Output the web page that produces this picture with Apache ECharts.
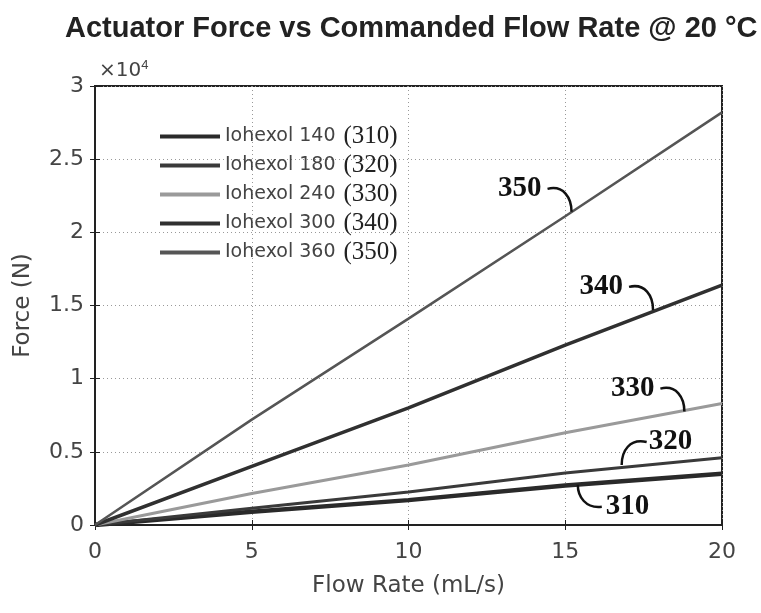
<!DOCTYPE html>
<html>
<head>
<meta charset="utf-8">
<script src="https://cdn.jsdelivr.net/npm/echarts@6/dist/echarts.min.js"></script>
<style>
  html, body { margin: 0; padding: 0; background: #fff; }
  #chart { width: 761px; height: 613px; }
</style>
</head>
<body>
<div id="chart"></div>
<script>
// flow rate (mL/s) and force (N) per contrast concentration
const flowRate = [0, 5, 10, 15, 20];
const force310 = [0, 900, 1700, 2700, 3500];
const force320 = [0, 1150, 2250, 3550, 4600];
const force330 = [0, 2150, 4100, 6300, 8300];
const force340 = [0, 4000, 8000, 12300, 16400];
const force350 = [0, 7200, 14100, 21100, 28200];

const seriesNames = ['Iohexol 140', 'Iohexol 180', 'Iohexol 240', 'Iohexol 300', 'Iohexol 360'];
const refCodes = ['310', '320', '330', '340', '350'];
const forces = [force310, force320, force330, force340, force350];

// look of each line (grayscale patent figure)
const lineLook = [
  { color: '#2a2a2a', width: 4.5 },
  { color: '#3a3a3a', width: 3 },
  { color: '#9a9a9a', width: 3 },
  { color: '#303030', width: 3.5 },
  { color: '#555555', width: 2.5 }
];

// callout anchors on the curves [flow, force] and which side the label sits
const callouts = [
  { code: '310', at: [15.4, 2750], side: 'rightDown' },
  { code: '320', at: [16.8, 4100], side: 'rightUp' },
  { code: '330', at: [18.8, 7750], side: 'leftUp' },
  { code: '340', at: [17.8, 14700], side: 'leftUp' },
  { code: '350', at: [15.2, 21400], side: 'leftUp' }
];

const chart = echarts.init(document.getElementById('chart'));

const series = forces.map((f, i) => ({
  name: seriesNames[i],
  type: 'line',
  data: flowRate.map((x, j) => [x, f[j]]),
  showSymbol: false,
  symbol: 'none',
  lineStyle: { color: lineLook[i].color, width: lineLook[i].width },
  itemStyle: { color: lineLook[i].color },
  z: 3
}));

const sans = 'DejaVu Sans';
const axisText = { color: '#444', fontFamily: sans, fontSize: 22 };
const boxLine = { show: true, lineStyle: { color: '#222', width: 2 } };
const inTick = { show: true, inside: true, length: 5, lineStyle: { color: '#222' } };
const dotted = { show: true, lineStyle: { color: '#999', type: [1, 3], width: 1 } };

chart.setOption({
  backgroundColor: '#fff',
  animation: false,
  title: {
    text: 'Actuator Force vs Commanded Flow Rate @ 20 °C',
    left: 60,
    top: 9,
    textStyle: { fontFamily: 'Liberation Sans', fontWeight: 'bold', fontSize: 29, color: '#222' }
  },
  grid: { left: 95, right: 39, top: 86, bottom: 88, show: true, borderColor: '#222', borderWidth: 2 },
  legend: {
    orient: 'vertical',
    left: 155,
    top: 119,
    itemWidth: 60,
    itemHeight: 4,
    itemGap: 4,
    icon: 'rect',
    data: seriesNames.map((n, i) => ({ name: n, itemStyle: { color: lineLook[i].color } })),
    formatter: (name) => '{a|' + name + '}{b|(' + refCodes[seriesNames.indexOf(name)] + ')}',
    textStyle: {
      lineHeight: 23,
      rich: {
        a: { fontFamily: sans, fontSize: 19, color: '#444', lineHeight: 23 },
        b: { fontFamily: 'Liberation Serif', fontSize: 25, color: '#222', lineHeight: 23, padding: [0, 0, 0, 8] }
      }
    }
  },
  xAxis: [{
    type: 'value',
    min: 0, max: 20, interval: 5,
    name: 'Flow Rate (mL/s)',
    nameLocation: 'middle',
    nameGap: 50,
    nameTextStyle: { fontFamily: sans, fontSize: 23, color: '#444' },
    axisLine: boxLine,
    axisTick: inTick,
    axisLabel: Object.assign({ margin: 16 }, axisText),
    splitLine: dotted
  }, {
    type: 'value', position: 'top',
    min: 0, max: 20, interval: 5,
    axisLine: boxLine, axisTick: inTick,
    axisLabel: { show: false }, splitLine: { show: false }
  }],
  yAxis: [{
    type: 'value',
    min: 0, max: 30000, interval: 5000,
    name: 'Force (N)',
    nameLocation: 'middle',
    nameGap: 60,
    nameTextStyle: { fontFamily: sans, fontSize: 23, color: '#444' },
    axisLine: boxLine,
    axisTick: inTick,
    axisLabel: Object.assign({ margin: 11, formatter: (v) => String(v / 10000) }, axisText),
    splitLine: dotted
  }, {
    type: 'value', position: 'right',
    min: 0, max: 30000, interval: 5000,
    axisLine: boxLine, axisTick: inTick,
    axisLabel: { show: false }, splitLine: { show: false }
  }],
  series: series
});

// scale exponent and numbered callouts, placed through the axes
function drawExtras() {
  const topLeft = chart.convertToPixel({ gridIndex: 0 }, [0, 30000]);
  const elements = [{
    type: 'text',
    x: topLeft[0] + 4,
    y: topLeft[1] - 3,
    style: {
      text: '×10{s|4}',
      rich: { s: { fontSize: 13, verticalAlign: 'top', padding: [0, 0, 11, 0] } },
      fontFamily: sans, fontSize: 20, fill: '#444',
      verticalAlign: 'bottom', align: 'left'
    }
  }];
  callouts.forEach((c) => {
    const p = chart.convertToPixel({ gridIndex: 0 }, c.at);
    let start, cp1, cp2, tx, align;
    if (c.side === 'leftUp') {
      start = [p[0] - 24, p[1] - 23];
      cp1 = [p[0] - 8, p[1] - 27];
      cp2 = [p[0], p[1] - 14];
      tx = start[0] - 6; align = 'right';
    } else if (c.side === 'rightUp') {
      start = [p[0] + 25, p[1] - 23];
      cp1 = [p[0] + 8, p[1] - 27];
      cp2 = [p[0], p[1] - 14];
      tx = start[0] + 2; align = 'left';
    } else {
      start = [p[0] + 24, p[1] + 22];
      cp1 = [p[0] + 8, p[1] + 24];
      cp2 = [p[0], p[1] + 12];
      tx = start[0] + 4; align = 'left';
    }
    elements.push({
      type: 'bezierCurve',
      shape: { x1: start[0], y1: start[1], cpx1: cp1[0], cpy1: cp1[1], cpx2: cp2[0], cpy2: cp2[1], x2: p[0], y2: p[1] },
      style: { stroke: '#111', lineWidth: 2.5, fill: null },
      z: 10
    });
    elements.push({
      type: 'text',
      x: tx,
      y: start[1],
      style: {
        text: c.code,
        fontFamily: 'Liberation Serif', fontWeight: 'bold', fontSize: 29, fill: '#111',
        align: align, verticalAlign: 'middle'
      },
      z: 10
    });
  });
  chart.setOption({ graphic: { elements: elements } });
}
drawExtras();
</script>
</body>
</html>
